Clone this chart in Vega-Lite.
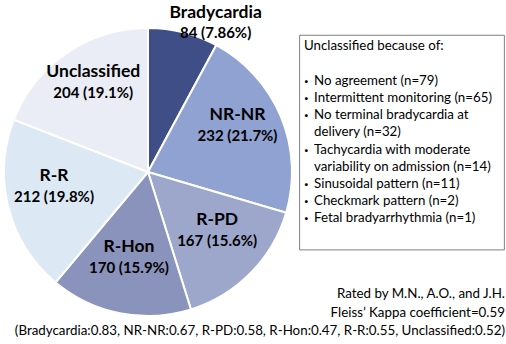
{
  "$schema": "https://vega.github.io/schema/vega-lite/v6.json",
  "padding": 0,
  "spacing": 5,
  "bounds": "flush",
  "background": "white",
  "config": {"view": {"stroke": null}, "font": "Lato"},
  "datasets": {
    "slices": [
      {"category": "Bradycardia", "n": 84, "label": "84 (7.86%)", "order": 1},
      {"category": "NR-NR", "n": 232, "label": "232 (21.7%)", "order": 2},
      {"category": "R-PD", "n": 167, "label": "167 (15.6%)", "order": 3},
      {"category": "R-Hon", "n": 170, "label": "170 (15.9%)", "order": 4},
      {"category": "R-R", "n": 212, "label": "212 (19.8%)", "order": 5},
      {"category": "Unclassified", "n": 204, "label": "204 (19.1%)", "order": 6}
    ],
    "notes": [
      {"line": 0, "kind": "header", "text": "Unclassified because of:"},
      {"line": 2, "kind": "item", "text": "No agreement (n=79)"},
      {"line": 3, "kind": "item", "text": "Intermittent monitoring (n=65)"},
      {"line": 4, "kind": "item", "text": "No terminal bradycardia at"},
      {"line": 5, "kind": "cont", "text": "delivery (n=32)"},
      {"line": 6, "kind": "item", "text": "Tachycardia with moderate"},
      {"line": 7, "kind": "cont", "text": "variability on admission (n=14)"},
      {"line": 8, "kind": "item", "text": "Sinusoidal pattern (n=11)"},
      {"line": 9, "kind": "item", "text": "Checkmark pattern (n=2)"},
      {"line": 10, "kind": "item", "text": "Fetal bradyarrhythmia (n=1)"}
    ]
  },
  "title": {
    "text": ["Rated by M.N., A.O., and J.H.", "Fleiss’ Kappa coefficient=0.59", "(Bradycardia:0.83, NR-NR:0.67, R-PD:0.58, R-Hon:0.47, R-R:0.55, Unclassified:0.52)"],
    "orient": "bottom", "anchor": "end", "align": "right", "baseline": "top",
    "offset": -57, "font": "Lato", "fontSize": 13.35, "fontWeight": "normal",
    "lineHeight": 18.5, "color": "black"
  },
  "hconcat": [
    {
      "width": 292,
      "height": 344,
      "data": {"name": "slices"},
      "encoding": {
        "theta": {"field": "n", "type": "quantitative", "stack": true},
        "order": {"field": "order", "type": "quantitative"}
      },
      "layer": [
        {
          "mark": {"type": "arc", "outerRadius": 144, "stroke": "white", "strokeWidth": 2},
          "encoding": {
            "color": {
              "field": "category", "type": "nominal", "legend": null,
              "scale": {
                "domain": ["Bradycardia", "NR-NR", "R-PD", "R-Hon", "R-R", "Unclassified"],
                "range": ["#3f4e87", "#8fa2d1", "#9da7cb", "#8a93bb", "#dce9f4", "#eaedf5"]
              }
            }
          }
        },
        {
          "mark": {"type": "text", "dy": {"expr": "datum.category === 'Bradycardia' ? -10 : -20"}, "radius": {"expr": "datum.category === 'Bradycardia' ? 154 : 97"}, "dx": {"expr": "datum.category === 'Bradycardia' ? 30 : 0"}, "fontWeight": "bold", "fontSize": 17.5, "color": "black"},
          "encoding": {"text": {"field": "category"}}
        },
        {
          "mark": {"type": "text", "dy": {"expr": "datum.category === 'Bradycardia' ? 10 : 1"}, "radius": {"expr": "datum.category === 'Bradycardia' ? 154 : 97"}, "dx": {"expr": "datum.category === 'Bradycardia' ? 30 : 0"}, "fontWeight": "bold", "fontSize": 15, "color": "black"},
          "encoding": {"text": {"field": "label"}}
        }
      ]
    },
    {
      "width": 206,
      "height": 344,
      "data": {"name": "notes"},
      "layer": [
        {
          "data": {"values": [{}]},
          "mark": {"type": "rect", "fill": "transparent", "stroke": "#7f7f7f", "strokeWidth": 1},
          "encoding": {
            "x": {"datum": 0.003, "type": "quantitative", "scale": {"domain": [0, 1], "nice": false, "zero": false}, "axis": null},
            "x2": {"datum": 0.997},
            "y": {"datum": -0.65, "type": "quantitative", "scale": {"domain": [-2.7, 17.3], "reverse": true, "nice": false, "zero": false}, "axis": null},
            "y2": {"datum": 11.83}
          }
        },
        {
          "transform": [{"filter": "datum.kind === 'header'"}],
          "mark": {"type": "text", "align": "left", "baseline": "middle", "fontSize": 13.3, "color": "black"},
          "encoding": {
            "x": {"datum": 0.024, "type": "quantitative", "scale": {"domain": [0, 1], "nice": false, "zero": false}, "axis": null},
            "y": {"field": "line", "type": "quantitative", "scale": {"domain": [-2.7, 17.3], "reverse": true, "nice": false, "zero": false}, "axis": null},
            "text": {"field": "text"}
          }
        },
        {
          "transform": [{"filter": "datum.kind === 'item'"}],
          "mark": {"type": "text", "align": "center", "baseline": "middle", "fontSize": 15, "fontWeight": "bold", "color": "black"},
          "encoding": {
            "x": {"datum": 0.036, "type": "quantitative", "scale": {"domain": [0, 1], "nice": false, "zero": false}, "axis": null},
            "y": {"field": "line", "type": "quantitative", "scale": {"domain": [-2.7, 17.3], "reverse": true, "nice": false, "zero": false}, "axis": null},
            "text": {"value": "·"}
          }
        },
        {
          "transform": [{"filter": "datum.kind !== 'header'"}],
          "mark": {"type": "text", "align": "left", "baseline": "middle", "fontSize": 13.3, "color": "black"},
          "encoding": {
            "x": {"datum": 0.073, "type": "quantitative", "scale": {"domain": [0, 1], "nice": false, "zero": false}, "axis": null},
            "y": {"field": "line", "type": "quantitative", "scale": {"domain": [-2.7, 17.3], "reverse": true, "nice": false, "zero": false}, "axis": null},
            "text": {"field": "text"}
          }
        }
      ]
    }
  ]
}
